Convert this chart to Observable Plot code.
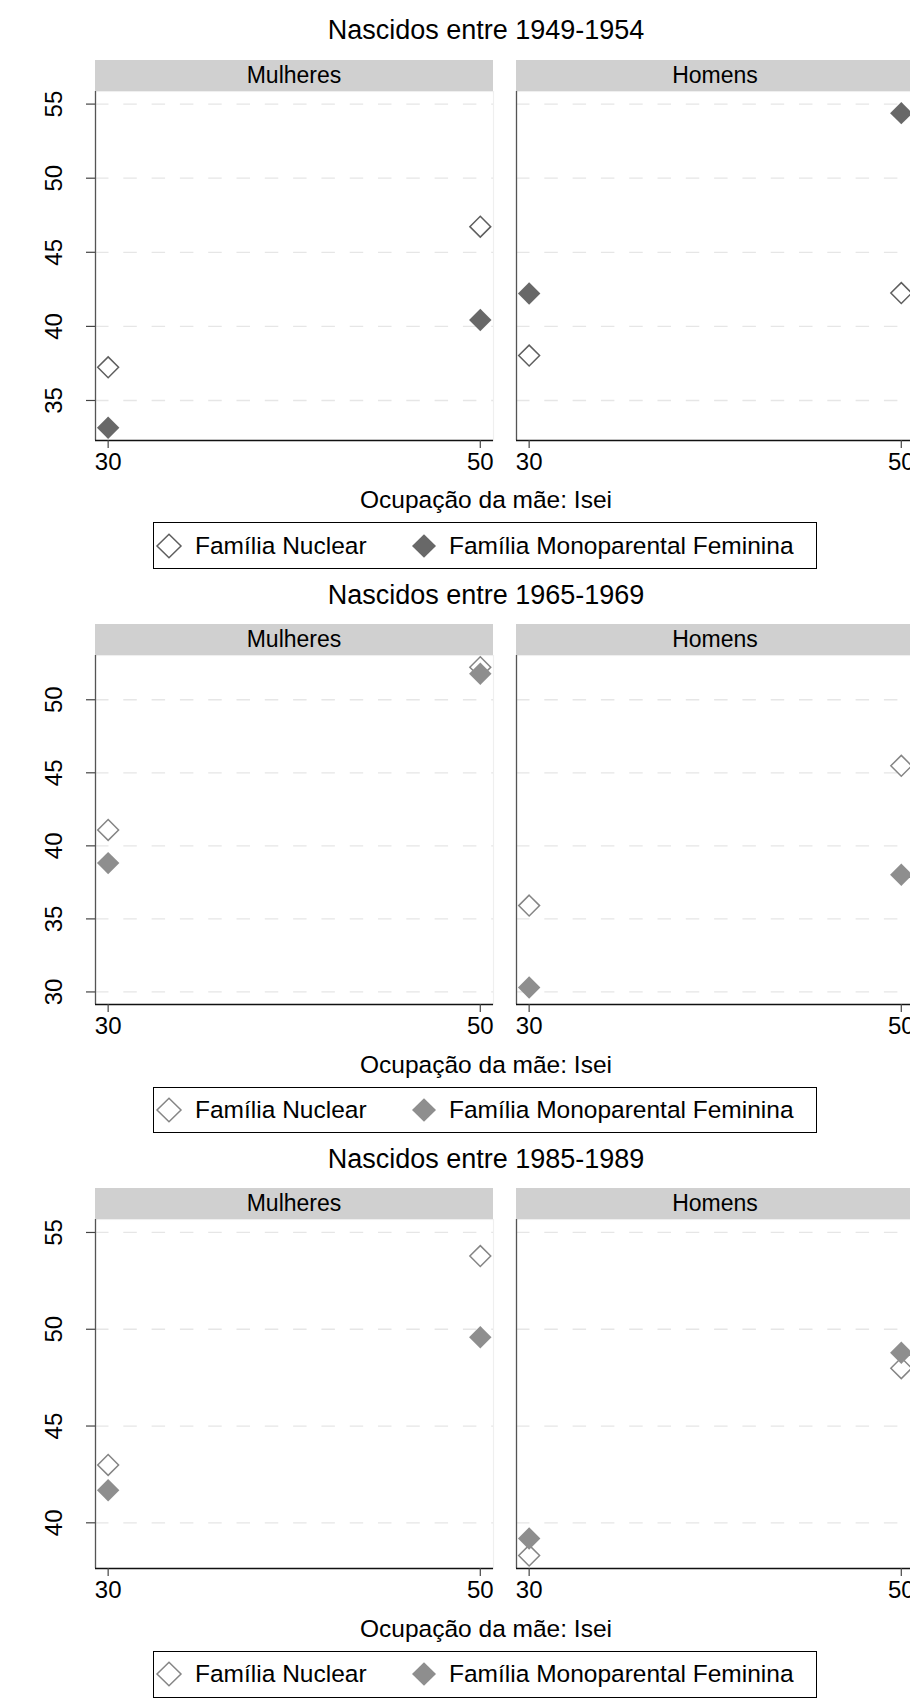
<!DOCTYPE html>
<html>
<head>
<meta charset="utf-8">
<script src="https://cdn.jsdelivr.net/npm/d3@7"></script>
<script src="https://cdn.jsdelivr.net/npm/@observablehq/plot@0.6"></script>
<style>
  html, body { margin: 0; padding: 0; background: #fff; overflow: hidden; }
  #root { position: relative; width: 972px; height: 1700px; font-family: "Liberation Sans", Arial, sans-serif; color: #000; }
  .abs { position: absolute; }
  .title { width: 972px; left: 0; text-align: center; font-size: 27px; line-height: 27px; white-space: nowrap; }
  .xtitle { width: 972px; left: 0; text-align: center; font-size: 24.5px; line-height: 24.5px; white-space: nowrap; }
  .strip { background: #d0d0d0; display: flex; align-items: center; justify-content: center; font-size: 23px; white-space: nowrap; }
  .legend { border: 1.4px solid #000; box-sizing: border-box; font-size: 24.5px; white-space: nowrap; background: #fff; }
  .legend .item { position: absolute; top: 0; height: 100%; display: flex; align-items: center; }
</style>
</head>
<body>
<div id="root"></div>
<script>
// ---------------- data ----------------
const cohorts = ["Nascidos entre 1949-1954", "Nascidos entre 1965-1969", "Nascidos entre 1985-1989"];
const sexos = ["Mulheres", "Homens"];
const isei = [30, 50];
const series = ["Família Nuclear", "Família Monoparental Feminina"];
const xTitle = "Ocupação da mãe: Isei";

// values at isei = 30 and isei = 50
const c1949_mulheres_nuclear = [37.24, 46.73];
const c1949_mulheres_mono    = [33.16, 40.43];
const c1949_homens_nuclear   = [38.03, 42.25];
const c1949_homens_mono      = [42.22, 54.39];

const c1965_mulheres_nuclear = [41.09, 52.23];
const c1965_mulheres_mono    = [38.82, 51.78];
const c1965_homens_nuclear   = [35.91, 45.48];
const c1965_homens_mono      = [30.30, 38.02];

const c1985_mulheres_nuclear = [42.99, 53.78];
const c1985_mulheres_mono    = [41.68, 49.59];
const c1985_homens_nuclear   = [38.31, 47.99];
const c1985_homens_mono      = [39.19, 48.79];

const xTicks = [30, 50];
const xDomain = [29.32, 50.71];
const yTicks = [[35, 40, 45, 50, 55], [30, 35, 40, 45, 50], [40, 45, 50, 55]];
const yDomains = [[32.3, 55.85], [29.14, 53.03], [37.64, 55.67]];

const blockValues = [
  [c1949_mulheres_nuclear, c1949_mulheres_mono, c1949_homens_nuclear, c1949_homens_mono],
  [c1965_mulheres_nuclear, c1965_mulheres_mono, c1965_homens_nuclear, c1965_homens_mono],
  [c1985_mulheres_nuclear, c1985_mulheres_mono, c1985_homens_nuclear, c1985_homens_mono]
];

// ---------------- styles ----------------
const FONT = "'Liberation Sans', Arial, sans-serif";
const filledColor = ["#686868", "#8e8e8e", "#8e8e8e"];
const hollowColor = ["#5e5e5e", "#858585", "#858585"];
const BLOCK = 564.3;

const root = document.getElementById("root");

function el(cls, styles, text) {
  const d = document.createElement("div");
  d.className = cls;
  Object.assign(d.style, styles);
  if (text != null) d.textContent = text;
  root.appendChild(d);
  return d;
}

function diamondSVG(color, filled) {
  const ns = "http://www.w3.org/2000/svg";
  const svg = document.createElementNS(ns, "svg");
  svg.setAttribute("width", 28); svg.setAttribute("height", 28);
  svg.setAttribute("viewBox", "-14 -14 28 28");
  const p = document.createElementNS(ns, "path");
  p.setAttribute("d", "M0,-11.8L12,0L0,11.8L-12,0Z");
  if (filled) { p.setAttribute("fill", color); }
  else { p.setAttribute("fill", "#fff"); p.setAttribute("stroke", color); p.setAttribute("stroke-width", 1.5); }
  svg.appendChild(p);
  return svg;
}

cohorts.forEach((cohort, b) => {
  const off = b * BLOCK;
  const vals = blockValues[b];
  const rows = [];
  sexos.forEach((s, si) => {
    series.forEach((ser, k) => {
      const arr = vals[si * 2 + k];
      isei.forEach((xv, i) => rows.push({sexo: s, serie: ser, isei: xv, valor: arr[i]}));
    });
  });
  const nuclear = rows.filter(d => d.serie === series[0]);
  const mono = rows.filter(d => d.serie === series[1]);

  // title
  el("abs title", {top: (17.2 + off) + "px"}, cohort);

  const marginTop = 12;
  const plot = Plot.plot({
    width: 914,
    height: 406,
    marginLeft: 94,
    marginRight: 0,
    marginTop,
    marginBottom: 45,
    style: {fontFamily: FONT, background: "transparent", maxWidth: "none", overflow: "visible", color: "#000"},
    fx: {domain: sexos, paddingInner: 0.0555, paddingOuter: 0, axis: null, label: null},
    x: {domain: xDomain, axis: null, label: null},
    y: {domain: yDomains[b], axis: null, label: null},
    marks: [
      Plot.frame({stroke: "#efefef", strokeWidth: 1.2}),
      Plot.gridY(yTicks[b], {stroke: "#e6e6e6", strokeOpacity: 1, strokeWidth: 1.3, strokeDasharray: "13.5,14.8"}),
      Plot.ruleX(xDomain.slice(0, 1), {stroke: "#555", strokeWidth: 1.3}),
      Plot.ruleY(yDomains[b].slice(0, 1), {stroke: "#111", strokeWidth: 1.3}),
      Plot.axisY(yTicks[b], {label: null, tickSize: 9, tickRotate: -90, tickPadding: 25, fontSize: 24, stroke: "#444", strokeWidth: 1.2}),
      Plot.axisX(xTicks, {label: null, tickSize: 8, tickPadding: 4, fontSize: 24, stroke: "#444", strokeWidth: 1.2}),
      Plot.dot(nuclear, {x: "isei", y: "valor", fx: "sexo", symbol: "diamond2", r: 9.4, stroke: hollowColor[b], strokeWidth: 1.5, fill: "#fff"}),
      Plot.dot(mono, {x: "isei", y: "valor", fx: "sexo", symbol: "diamond2", r: 10.1, fill: filledColor[b]})
    ]
  });
  const frameTop = 90.7 + off;
  const wrap = el("abs", {left: "0px", top: (frameTop - marginTop) + "px"});
  wrap.appendChild(plot);

  // strips positioned from the fx scale
  const fx = plot.scale("fx");
  sexos.forEach(s => {
    const left = fx.apply(s);
    el("abs strip", {left: left + "px", width: fx.bandwidth + "px", top: (frameTop - 31.2) + "px", height: "31.2px"}, s);
  });

  // x axis title
  el("abs xtitle", {top: (488.3 + off) + "px"}, xTitle);

  // legend
  const lg = el("abs legend", {left: "152.5px", top: (522.3 + off) + "px", width: "664.5px", height: "46.8px"});
  const positions = [{sym: 1.5, txt: 41.5}, {sym: 256.5, txt: 295.5}];
  series.forEach((ser, k) => {
    const sym = document.createElement("div");
    sym.className = "item";
    sym.style.left = positions[k].sym + "px";
    sym.appendChild(diamondSVG(k === 0 ? hollowColor[b] : filledColor[b], k === 1));
    lg.appendChild(sym);
    const t = document.createElement("div");
    t.className = "item";
    t.style.left = positions[k].txt + "px";
    t.textContent = ser;
    lg.appendChild(t);
  });
});
</script>
</body>
</html>
